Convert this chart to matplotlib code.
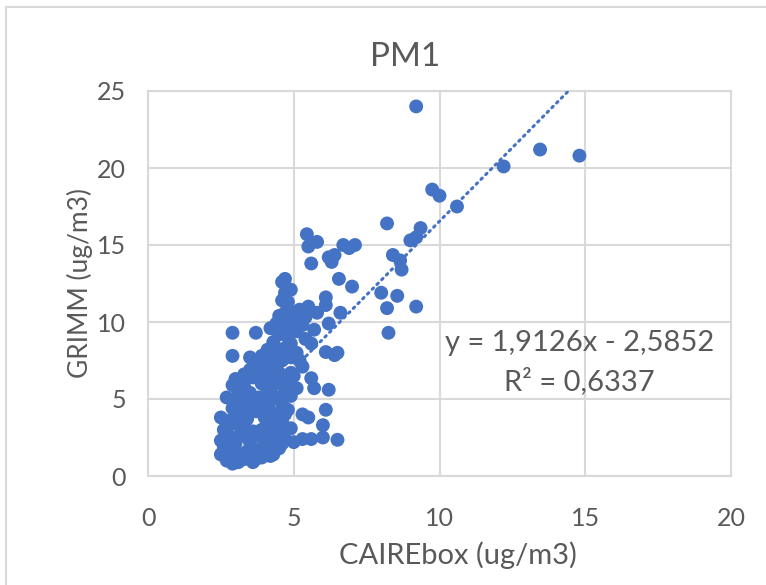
import matplotlib
matplotlib.use("Agg")
import matplotlib.pyplot as plt
from matplotlib.patches import Rectangle

plt.rcParams['font.family'] = ['Lato', 'DejaVu Sans']

# CAIREbox (x) vs GRIMM (y)
caire = [
    # dense cluster, lowest rows
    2.5, 2.7, 2.9, 3.1, 3.3, 3.6, 3.9, 4.2, 2.6, 3.0, 3.4, 3.8, 4.3, 2.8, 3.2, 3.5, 3.7, 4.0, 4.5,
    2.5, 2.8, 3.0, 3.2, 3.5, 3.7, 4.0, 4.4, 4.7, 2.6, 3.3, 3.9, 4.5, 5.0, 5.3, 5.6, 6.0, 6.5, 4.9,
    2.9, 3.4, 3.6, 4.2, 4.1, 4.6,
    2.5, 2.8, 3.1, 3.4, 3.7, 4.0, 4.3, 4.6, 2.9, 3.5, 4.1, 4.8, 5.5, 6.0, 6.1, 5.3,
    2.7, 3.0, 3.3, 3.9, 4.4, 4.2, 4.7,
    2.9, 3.2, 3.5, 3.8, 4.1, 4.4, 4.7, 3.3, 3.9, 4.5, 5.1, 5.7, 6.2, 4.9, 3.6, 4.2,
    2.7, 3.0, 3.6, 4.2, 4.6, 3.1, 4.3, 4.8,
    3.0, 3.3, 3.9, 4.5, 4.1, 5.0, 3.5,
    2.9, 3.5, 3.8, 4.0, 4.3, 4.6, 4.9, 5.3, 4.4, 4.1, 4.7, 5.1, 5.6, 6.1, 6.5, 6.4, 3.7, 4.8, 5.6,
    4.2, 4.5, 4.9, 3.9, 5.2,
    2.9, 3.7, 4.3, 4.5, 4.8, 5.1, 5.4, 4.2, 4.7, 5.1, 5.7, 6.2, 4.5, 5.0, 5.4,
    4.4, 4.9, 4.6, 5.3, 4.9, 4.4,
    4.6, 4.8, 4.6, 4.7, 5.5, 6.1, 6.1, 6.6, 5.8, 4.7, 5.2, 4.8, 4.7, 4.9,
    # upper middle group
    5.45, 5.8, 5.5, 5.6, 6.2, 6.4, 6.3, 6.7, 7.1, 6.9, 6.55, 7.0,
    # right side
    9.2, 13.45, 14.8, 12.2, 9.75, 10.0, 10.6, 8.2, 9.35, 9.0, 9.2, 8.4, 8.65, 8.7, 8.0, 8.55, 8.2, 9.2, 8.25,
]
grimm = [
    1.4, 1.0, 0.8, 0.9, 1.1, 0.9, 1.2, 1.3, 1.8, 1.5, 1.6, 1.7, 1.4, 1.3, 1.4, 1.3, 1.1, 1.6, 1.8,
    2.3, 2.6, 2.1, 2.8, 2.2, 2.6, 2.3, 2.5, 2.4, 3.0, 3.2, 3.0, 2.9, 2.2, 2.4, 2.4, 2.5, 2.35, 3.1,
    2.3, 2.5, 2.9, 2.7, 2.0, 2.1,
    3.8, 3.6, 4.0, 3.7, 4.2, 3.8, 4.1, 3.6, 4.4, 4.5, 4.6, 4.3, 3.8, 3.3, 4.3, 4.0,
    3.2, 3.4, 4.2, 4.3, 3.5, 3.3, 4.0,
    5.9, 5.0, 5.4, 5.1, 5.6, 5.1, 5.5, 5.8, 6.0, 6.1, 5.7, 5.7, 5.6, 5.2, 6.4, 6.6,
    5.1, 4.8, 4.8, 4.9, 4.7, 5.5, 5.9, 5.9,
    6.3, 6.6, 6.5, 6.7, 6.1, 6.5, 6.9,
    7.8, 7.7, 6.9, 7.3, 7.0, 7.5, 6.7, 7.1, 7.9, 8.2, 8.3, 8.0, 8.6, 8.05, 8.0, 7.85, 7.2, 6.2, 6.35,
    7.6, 8.0, 7.7, 7.8, 7.5,
    9.3, 9.3, 8.7, 9.2, 9.0, 9.4, 8.9, 9.6, 9.9, 10.1, 9.5, 9.9, 10.4, 10.6, 10.3,
    8.3, 8.6, 9.5, 9.8, 9.4, 9.9,
    11.4, 11.3, 12.6, 12.8, 11.0, 11.6, 11.1, 10.6, 10.6, 10.6, 10.8, 10.2, 11.9, 12.1,
    15.7, 15.2, 14.9, 13.8, 14.2, 14.35, 13.9, 15.0, 15.0, 14.8, 12.8, 12.3,
    24.0, 21.2, 20.8, 20.1, 18.6, 18.2, 17.5, 16.4, 16.1, 15.3, 15.5, 14.35, 14.0, 13.4, 11.9, 11.7, 10.9, 11.0, 9.3,
]

slope, intercept = 1.9126, -2.5852
r2 = 0.6337

blue = '#4472C4'
grid = '#d9d9d9'
txt = '#595959'

fig = plt.figure(figsize=(7.66, 5.85), dpi=100)
fig.patches.append(Rectangle((6/766, -0.1), 1.2, 1 - 7/585 + 0.1, transform=fig.transFigure,
                             fill=False, edgecolor=grid, linewidth=1.5))
ax = fig.add_axes([148/766, 1 - 476/585, 583/766, 385/585])

# trendline over the data's x range (clipped at the top of the axes)
x0, x1 = min(caire), max(caire)
ax.plot([x0, x1], [slope*x0 + intercept, slope*x1 + intercept], color=blue,
        linestyle=(0, (0.6, 1.6)), linewidth=2.2, dash_capstyle='round', zorder=3)
ax.scatter(caire, grimm, s=100, color=blue, edgecolors='none', zorder=4)

ax.set_xlim(0, 20)
ax.set_ylim(0, 25)
ax.set_xticks([0, 5, 10, 15, 20])
ax.set_yticks([0, 5, 10, 15, 20, 25])
ax.grid(True, color=grid, linewidth=1.5, zorder=0)
ax.set_axisbelow(True)
for s in ax.spines.values():
    s.set_color(grid)
    s.set_linewidth(1.5)
ax.tick_params(length=0, labelsize=18, labelcolor=txt)
ax.tick_params(axis='x', pad=22)
ax.tick_params(axis='y', pad=16)

fig.text(405/766, 1 - 57/585, 'PM1', ha='center', va='center', fontsize=24, color=txt)
fig.text(458/766, 1 - 555/585, 'CAIREbox (ug/m3)', ha='center', va='center', fontsize=21, color=txt)
fig.text(80/766, 1 - 283/585, 'GRIMM (ug/m3)', ha='center', va='center', rotation=90,
         fontsize=19, color=txt)

ax.text(14.8, 8.64, 'y = 1,9126x - 2,5852', ha='center', va='center', fontsize=21, color=txt)
ax.text(14.8, 6.17, 'R² = %s' % str(r2).replace('.', ','), ha='center', va='center', fontsize=21, color=txt)

fig.savefig('out.png', dpi=100)
